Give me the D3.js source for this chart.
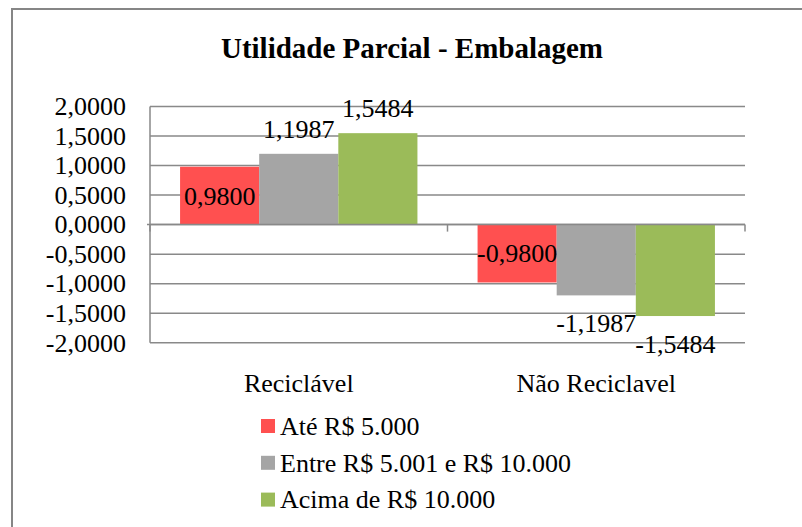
<!DOCTYPE html>
<html>
<head>
<meta charset="utf-8">
<script src="https://cdn.jsdelivr.net/npm/d3@7"></script>
<style>
  body { margin: 0; background: #fff; }
  svg text { font-family: "Liberation Serif", "Times New Roman", Times, "DejaVu Serif", serif; fill: #000; }
</style>
</head>
<body>
<div id="chart"></div>
<script>
// chart data
const categories = ["Reciclável", "Não Reciclavel"];
const seriesNames = ["Até R$ 5.000", "Entre R$ 5.001 e R$ 10.000", "Acima de R$ 10.000"];
const ateValues = [0.98, -0.98];
const entreValues = [1.1987, -1.1987];
const acimaValues = [1.5484, -1.5484];
const yTicks = [-2, -1.5, -1, -0.5, 0, 0.5, 1, 1.5, 2];
const colors = ["#ff5050", "#a5a5a5", "#9bbb59"];

const seriesValues = [ateValues, entreValues, acimaValues];

const width = 802, height = 527;
const plot = { left: 150, right: 745, top: 106.5, bottom: 342.7 };

const locale = d3.formatLocale({ decimal: ",", thousands: ".", grouping: [3], currency: ["R$", ""], minus: "-" });
const fmt = locale.format(".4f");

let svg = d3.select("#chart").append("svg")
    .attr("width", width)
    .attr("height", height)
    .style("font-family", "'Liberation Serif', 'Times New Roman', Times, 'DejaVu Serif', serif");

// outer frame (right and bottom edges fall outside the picture)
svg.append("rect")
    .attr("x", 12).attr("y", 9)
    .attr("width", 820).attr("height", 560)
    .attr("fill", "none")
    .attr("stroke", "#868686")
    .attr("stroke-width", 2);

svg.append("text")
    .attr("x", 412).attr("y", 58)
    .attr("text-anchor", "middle")
    .style("font-size", "29px")
    .style("font-weight", "bold")
    .text("Utilidade Parcial - Embalagem");

let y = d3.scaleLinear().domain([-2, 2]).range([plot.bottom, plot.top]);
let x0 = d3.scaleBand().domain(categories).range([plot.left, plot.right]);
let x1 = d3.scaleBand().domain(d3.range(seriesNames.length))
    .range([0, x0.bandwidth()]).paddingOuter(0.38);

// gridlines
svg.append("g")
    .selectAll("line")
    .data(yTicks)
    .enter()
    .append("line")
    .attr("x1", plot.left).attr("x2", plot.right)
    .attr("y1", d => y(d)).attr("y2", d => y(d))
    .style("stroke", "#898989")
    .style("stroke-width", 1.5);

// value axis labels
svg.append("g")
    .selectAll("text")
    .data(yTicks)
    .enter()
    .append("text")
    .attr("x", 126)
    .attr("y", d => y(d))
    .attr("dy", "0.34em")
    .attr("text-anchor", "end")
    .style("font-size", "26px")
    .text(d => fmt(d));

// bars
let bars = [];
seriesValues.forEach((vals, s) => {
    vals.forEach((v, c) => bars.push({ s: s, c: c, v: v }));
});

svg.append("g")
    .selectAll("rect")
    .data(bars)
    .enter()
    .append("rect")
    .attr("x", d => x0(categories[d.c]) + x1(d.s))
    .attr("width", x1.bandwidth())
    .attr("y", d => y(Math.max(0, d.v)))
    .attr("height", d => Math.abs(y(d.v) - y(0)))
    .style("fill", d => colors[d.s]);

// axes lines
svg.append("line")
    .attr("x1", plot.left).attr("x2", plot.left)
    .attr("y1", plot.top).attr("y2", plot.bottom)
    .style("stroke", "#898989").style("stroke-width", 1.5);

svg.append("line")
    .attr("x1", plot.left - 3).attr("x2", plot.right)
    .attr("y1", y(0)).attr("y2", y(0))
    .style("stroke", "#898989").style("stroke-width", 1.5);

// category ticks
let catEdges = categories.map(c => x0(c)).concat([plot.right]);
svg.append("g")
    .selectAll("line")
    .data(catEdges)
    .enter()
    .append("line")
    .attr("x1", d => d).attr("x2", d => d)
    .attr("y1", y(0)).attr("y2", y(0) + 7)
    .style("stroke", "#898989").style("stroke-width", 1.5);

// data labels: first series centered, others outside end
svg.append("g")
    .selectAll("text")
    .data(bars)
    .enter()
    .append("text")
    .attr("x", d => x0(categories[d.c]) + x1(d.s) + x1.bandwidth() / 2)
    .attr("y", d => {
        if (d.s === 0) return (y(d.v) + y(0)) / 2;
        return d.v > 0 ? y(d.v) - 25 : y(d.v) + 28;
    })
    .attr("dy", "0.34em")
    .attr("text-anchor", "middle")
    .style("font-size", "26px")
    .text(d => fmt(d.v));

// category labels
svg.append("g")
    .selectAll("text")
    .data(categories)
    .enter()
    .append("text")
    .attr("x", d => x0(d) + x0.bandwidth() / 2)
    .attr("y", 383)
    .attr("dy", "0.34em")
    .attr("text-anchor", "middle")
    .style("font-size", "26px")
    .text(d => d);

// legend
let legend = svg.append("g")
    .selectAll("g")
    .data(seriesNames)
    .enter()
    .append("g")
    .attr("transform", (d, i) => `translate(261, ${426 + i * 36.8})`);

legend.append("rect")
    .attr("x", 0).attr("y", -7)
    .attr("width", 14).attr("height", 14)
    .style("fill", (d, i) => colors[i]);

legend.append("text")
    .attr("x", 19)
    .attr("dy", "0.34em")
    .style("font-size", "26px")
    .text(d => d);
</script>
</body>
</html>
